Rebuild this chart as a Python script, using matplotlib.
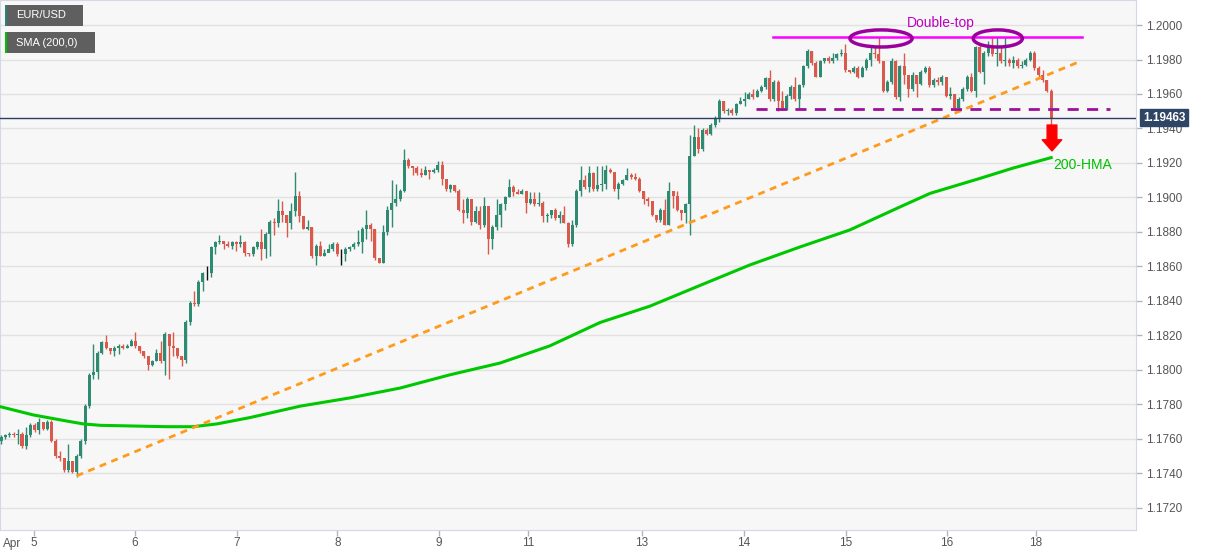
import matplotlib.pyplot as plt
import numpy as np
from matplotlib.patches import Ellipse, Rectangle

plt.rcParams['font.family'] = ['Liberation Sans', 'DejaVu Sans']

# hourly EUR/USD candles, open = previous close
first_open = 1.1759
closes = [
    1.1761, 1.1762, 1.1763, 1.1762, 1.1763, 1.1756, 1.1762, 1.1768, 1.1765, 1.1770,
    1.1766, 1.1770, 1.1759, 1.1750, 1.1749, 1.1742, 1.1747, 1.1741, 1.1750, 1.1759,
    1.1779, 1.1797, 1.1799, 1.1810, 1.1816, 1.1813, 1.1811, 1.1813, 1.1814, 1.1813,
    1.1814, 1.1817, 1.1814, 1.1811, 1.1808, 1.1803, 1.1805, 1.1810, 1.1805, 1.1821,
    1.1814, 1.1813, 1.1808, 1.1806, 1.1828, 1.1839, 1.1838, 1.1851, 1.1856, 1.1856,
    1.1871, 1.1874, 1.1875, 1.1873, 1.1872, 1.1874, 1.1873, 1.1874, 1.1868, 1.1867,
    1.1871, 1.1874, 1.1870, 1.1879, 1.1886, 1.1885, 1.1892, 1.1890, 1.1885, 1.1892,
    1.1901, 1.1889, 1.1882, 1.1883, 1.1866, 1.1872, 1.1866, 1.1868, 1.1870, 1.1873,
    1.1867, 1.1867, 1.1870, 1.1871, 1.1873, 1.1874, 1.1882, 1.1884, 1.1882, 1.1865,
    1.1862, 1.1880, 1.1893, 1.1897, 1.1899, 1.1904, 1.1922, 1.1918, 1.1917, 1.1914,
    1.1913, 1.1916, 1.1915, 1.1916, 1.1919, 1.1911, 1.1905, 1.1907, 1.1904, 1.1893,
    1.1891, 1.1899, 1.1886, 1.1892, 1.1884, 1.1895, 1.1876, 1.1883, 1.1890, 1.1896,
    1.1900, 1.1906, 1.1903, 1.1902, 1.1904, 1.1897, 1.1899, 1.1896, 1.1897, 1.1889,
    1.1890, 1.1893, 1.1888, 1.1890, 1.1885, 1.1873, 1.1884, 1.1904, 1.1910, 1.1906,
    1.1914, 1.1905, 1.1907, 1.1908, 1.1916, 1.1915, 1.1905, 1.1908, 1.1910, 1.1913,
    1.1912, 1.1911, 1.1904, 1.1899, 1.1898, 1.1890, 1.1887, 1.1893, 1.1884, 1.1904,
    1.1901, 1.1893, 1.1891, 1.1896, 1.1924, 1.1935, 1.1928, 1.1939, 1.1937, 1.1942,
    1.1946, 1.1956, 1.1950, 1.1951, 1.1949, 1.1954, 1.1956, 1.1957, 1.1960, 1.1958,
    1.1962, 1.1964, 1.1969, 1.1957, 1.1967, 1.1956, 1.1952, 1.1959, 1.1964, 1.1957,
    1.1965, 1.1976, 1.1985, 1.1978, 1.1970, 1.1979, 1.1981, 1.1979, 1.1981, 1.1983,
    1.1984, 1.1974, 1.1973, 1.1975, 1.1970, 1.1975, 1.1980, 1.1984, 1.1983, 1.1979,
    1.1962, 1.1967, 1.1979, 1.1958, 1.1976, 1.1971, 1.1963, 1.1971, 1.1966, 1.1973,
    1.1975, 1.1965, 1.1968, 1.1967, 1.1970, 1.1959, 1.1960, 1.1952, 1.1957, 1.1963,
    1.1970, 1.1962, 1.1987, 1.1973, 1.1984, 1.1987, 1.1983, 1.1984, 1.1979, 1.1980,
    1.1978, 1.1980, 1.1976, 1.1977, 1.1980, 1.1984, 1.1975, 1.1971, 1.1968, 1.1962,
    1.19463,
]
highs = [
    1.1762, 1.1763, 1.1764, 1.1764, 1.1766, 1.1764, 1.1767, 1.1769, 1.1769, 1.1772,
    1.1770, 1.1771, 1.1771, 1.1760, 1.1753, 1.1749, 1.1757, 1.1747, 1.1751, 1.1760,
    1.1780, 1.1798, 1.1815, 1.1811, 1.1817, 1.1820, 1.1813, 1.1814, 1.1815, 1.1815,
    1.1815, 1.1818, 1.1822, 1.1814, 1.1811, 1.1808, 1.1806, 1.1812, 1.1817, 1.1822,
    1.1821, 1.1822, 1.1813, 1.1808, 1.1829, 1.1840, 1.1846, 1.1852, 1.1857, 1.1860,
    1.1872, 1.1875, 1.1878, 1.1875, 1.1875, 1.1875, 1.1875, 1.1878, 1.1875, 1.1868,
    1.1872, 1.1875, 1.1882, 1.1880, 1.1887, 1.1888, 1.1899, 1.1898, 1.1890, 1.1897,
    1.1915, 1.1904, 1.1889, 1.1887, 1.1883, 1.1873, 1.1875, 1.1870, 1.1873, 1.1874,
    1.1874, 1.1870, 1.1871, 1.1872, 1.1874, 1.1881, 1.1883, 1.1893, 1.1885, 1.1882,
    1.1865, 1.1884, 1.1895, 1.1910, 1.1908, 1.1905, 1.1928, 1.1923, 1.1918, 1.1918,
    1.1917, 1.1918, 1.1916, 1.1917, 1.1921, 1.1921, 1.1911, 1.1908, 1.1907, 1.1905,
    1.1899, 1.1900, 1.1899, 1.1895, 1.1895, 1.1900, 1.1895, 1.1884, 1.1899, 1.1897,
    1.1901, 1.1911, 1.1907, 1.1905, 1.1905, 1.1904, 1.1903, 1.1903, 1.1903, 1.1898,
    1.1891, 1.1893, 1.1894, 1.1892, 1.1895, 1.1886, 1.1887, 1.1905, 1.1918, 1.1913,
    1.1918, 1.1915, 1.1918, 1.1918, 1.1919, 1.1917, 1.1915, 1.1909, 1.1911, 1.1917,
    1.1914, 1.1914, 1.1912, 1.1904, 1.1900, 1.1898, 1.1890, 1.1894, 1.1899, 1.1909,
    1.1904, 1.1904, 1.1893, 1.1897, 1.1936, 1.1942, 1.1940, 1.1940, 1.1940, 1.1943,
    1.1947, 1.1957, 1.1956, 1.1952, 1.1952, 1.1955, 1.1958, 1.1961, 1.1961, 1.1963,
    1.1963, 1.1965, 1.1970, 1.1974, 1.1968, 1.1968, 1.1962, 1.1960, 1.1965, 1.1970,
    1.1966, 1.1977, 1.1986, 1.1985, 1.1979, 1.1980, 1.1981, 1.1982, 1.1984, 1.1984,
    1.1986, 1.1989, 1.1974, 1.1976, 1.1976, 1.1976, 1.1981, 1.1987, 1.1988, 1.1993,
    1.1979, 1.1968, 1.1981, 1.1980, 1.1977, 1.1984, 1.1971, 1.1973, 1.1971, 1.1974,
    1.1976, 1.1976, 1.1969, 1.1970, 1.1971, 1.1970, 1.1964, 1.1960, 1.1958, 1.1964,
    1.1971, 1.1972, 1.1988, 1.1989, 1.1985, 1.1991, 1.1993, 1.1993, 1.1987, 1.1993,
    1.1981, 1.1982, 1.1981, 1.1979, 1.1981, 1.1985, 1.1985, 1.1976, 1.1974, 1.1968,
    1.1963,
]
lows = [
    1.1757, 1.1760, 1.1761, 1.1761, 1.1757, 1.1755, 1.1754, 1.1761, 1.1764, 1.1763,
    1.1765, 1.1765, 1.1758, 1.1749, 1.1747, 1.1741, 1.1741, 1.1740, 1.1738, 1.1749,
    1.1757, 1.1778, 1.1795, 1.1795, 1.1809, 1.1812, 1.1809, 1.1808, 1.1809, 1.1812,
    1.1813, 1.1814, 1.1813, 1.1810, 1.1807, 1.1800, 1.1802, 1.1805, 1.1804, 1.1797,
    1.1795, 1.1808, 1.1807, 1.1802, 1.1804, 1.1826, 1.1837, 1.1837, 1.1846, 1.1852,
    1.1854, 1.1867, 1.1873, 1.1870, 1.1871, 1.1870, 1.1869, 1.1871, 1.1866, 1.1866,
    1.1866, 1.1870, 1.1864, 1.1865, 1.1866, 1.1878, 1.1883, 1.1886, 1.1877, 1.1882,
    1.1889, 1.1886, 1.1882, 1.1881, 1.1865, 1.1861, 1.1866, 1.1866, 1.1869, 1.1869,
    1.1866, 1.1861, 1.1863, 1.1869, 1.1870, 1.1872, 1.1868, 1.1876, 1.1875, 1.1864,
    1.1862, 1.1862, 1.1878, 1.1883, 1.1895, 1.1898, 1.1903, 1.1917, 1.1913, 1.1913,
    1.1912, 1.1913, 1.1911, 1.1914, 1.1915, 1.1907, 1.1904, 1.1903, 1.1903, 1.1892,
    1.1885, 1.1888, 1.1884, 1.1885, 1.1882, 1.1883, 1.1867, 1.1870, 1.1881, 1.1883,
    1.1893, 1.1900, 1.1901, 1.1902, 1.1902, 1.1891, 1.1896, 1.1895, 1.1895, 1.1886,
    1.1886, 1.1888, 1.1887, 1.1885, 1.1885, 1.1871, 1.1872, 1.1883, 1.1901, 1.1905,
    1.1903, 1.1904, 1.1904, 1.1904, 1.1905, 1.1914, 1.1904, 1.1899, 1.1907, 1.1910,
    1.1911, 1.1910, 1.1903, 1.1896, 1.1895, 1.1889, 1.1886, 1.1886, 1.1884, 1.1884,
    1.1894, 1.1892, 1.1887, 1.1885, 1.1878, 1.1924, 1.1926, 1.1927, 1.1936, 1.1936,
    1.1941, 1.1944, 1.1949, 1.1948, 1.1948, 1.1948, 1.1954, 1.1953, 1.1957, 1.1957,
    1.1958, 1.1961, 1.1963, 1.1956, 1.1956, 1.1950, 1.1951, 1.1951, 1.1957, 1.1956,
    1.1952, 1.1964, 1.1975, 1.1977, 1.1970, 1.1970, 1.1978, 1.1978, 1.1978, 1.1980,
    1.1982, 1.1973, 1.1972, 1.1972, 1.1969, 1.1970, 1.1974, 1.1976, 1.1981, 1.1978,
    1.1961, 1.1961, 1.1966, 1.1957, 1.1956, 1.1966, 1.1958, 1.1962, 1.1958, 1.1965,
    1.1972, 1.1964, 1.1964, 1.1965, 1.1965, 1.1958, 1.1957, 1.1951, 1.1950, 1.1956,
    1.1962, 1.1961, 1.1958, 1.1972, 1.1966, 1.1982, 1.1982, 1.1976, 1.1978, 1.1976,
    1.1976, 1.1975, 1.1975, 1.1975, 1.1976, 1.1979, 1.1974, 1.1970, 1.1967, 1.1961,
    1.1942,
]

# 200 SMA read at points along the line (candle index, price)
sma_idx = [0, 7.7, 15.6, 19.6, 23.6, 31.4, 39.5, 45.7, 51.4, 59.3, 71.2, 83.1, 95,
           106.9, 118.8, 130.7, 142.6, 154.5, 166.4, 178.3, 190.2, 202.1, 214,
           221.2, 233.1, 241, 250]
sma_val = [1.17786, 1.17739, 1.17704, 1.17687, 1.17679, 1.17675, 1.17671, 1.17671,
           1.17687, 1.17724, 1.17790, 1.17838, 1.17895, 1.17972, 1.18040, 1.18140,
           1.18275, 1.18370, 1.18490, 1.18609, 1.18713, 1.18812, 1.18945, 1.19024,
           1.19111, 1.19171, 1.19231]

trend_idx = [18.0, 256.4]
trend_val = [1.17386, 1.19784]
neck_idx = [179.8, 264.0]
neck_val = 1.19513
top_idx = [183.8, 257.3]
top_val = 1.19932
last_price = 1.19463

tick_pos = [7.9, 31.9, 56.1, 80.1, 104.3, 125.5, 152.6, 176.9, 201.1, 225.2, 246.3]
tick_lbl = ['5', '6', '7', '8', '9', '11', '13', '14', '15', '16', '18']
y_ticks = np.round(np.arange(1.1720, 1.2001, 0.002), 4)

W, H = 1207, 555
fig = plt.figure(figsize=(W / 100, H / 100), dpi=100)
ax = fig.add_axes([0, 25 / H, 1136 / W, 530 / H])
ax.set_facecolor('#f7f7f7')

closes = np.array(closes)
highs = np.array(highs)
lows = np.array(lows)
opens = np.concatenate([[first_open], closes[:-1]])
x = np.arange(len(closes))

cols = []
for o, c in zip(opens, closes):
    if abs(c - o) < 1e-6:
        cols.append('#111111')
    elif c > o:
        cols.append('#2f8a72')
    else:
        cols.append('#d9594c')

ax.vlines(x, lows, highs, colors=cols, lw=1, zorder=3)
ax.bar(x, np.maximum(np.abs(closes - opens), 0.00003), bottom=np.minimum(opens, closes),
       width=0.72, color=cols, lw=0, zorder=4)

# SMA 200
ax.plot(sma_idx, sma_val, color='#00c800', lw=2.2, zorder=5)

# trend line, neckline, double top line
ax.plot(trend_idx, trend_val, color='#ff9a1a', lw=2, ls=(0, (2.5, 2)), zorder=6)
ax.plot(neck_idx, [neck_val, neck_val], color='#9c109c', lw=2, ls=(0, (4, 3)), zorder=6)
ax.plot(top_idx, [top_val, top_val], color='#ff00ff', lw=1.8, zorder=6)

ax.add_patch(Ellipse((209.5, 1.19922), 14.8, 0.00099, fill=False,
                     edgecolor='#9c009c', lw=2.5, zorder=7))
ax.add_patch(Ellipse((237.3, 1.19922), 11.7, 0.00099, fill=False,
                     edgecolor='#9c009c', lw=2.5, zorder=7))
ax.text(223.8, 1.20014, 'Double-top', color='#c000c0', fontsize=10,
        ha='center', va='center', zorder=8)

# last price line
ax.axhline(last_price, color='#2c3e66', lw=1, zorder=6)

ax.annotate('', xy=(250.2, 1.1927), xytext=(250.2, 1.1942),
            arrowprops=dict(arrowstyle='simple,head_length=0.8,head_width=1.4,tail_width=0.7',
                            color='#ff0000', mutation_scale=10, shrinkA=0, shrinkB=0),
            zorder=8)
ax.text(250.5, 1.19188, '200-HMA', color='#00c000', fontsize=10,
        ha='left', va='center', zorder=8)

ax.set_xlim(-0.24, 270.2)
ax.set_ylim(1.17072, 1.20145)

ax.yaxis.tick_right()
ax.set_yticks(y_ticks)
ax.set_yticklabels([f'{v:.4f}' for v in y_ticks])
ax.set_xticks(tick_pos)
ax.set_xticklabels(tick_lbl)
ax.tick_params(axis='both', colors='#b0b4c0', labelcolor='#555555', labelsize=8.5,
               length=4, width=1)
ax.tick_params(axis='y', pad=3)
ax.tick_params(axis='x', pad=1)
ax.grid(axis='y', color='#e2e2e2', lw=1, zorder=0)
ax.set_axisbelow(True)
for s in ax.spines.values():
    s.set_color('#d3d7e6')

ax.text(0.003, -0.016, 'Apr', transform=ax.transAxes, fontsize=8.5,
        color='#555555', ha='left', va='top')

# price label on the right
ax.text(1.006, last_price, '1.19463', transform=ax.get_yaxis_transform(),
        color='white', fontsize=8.5, fontweight='bold', ha='left', va='center',
        bbox=dict(boxstyle='square,pad=0.2', fc='#2f4566', ec='#2f4566'), zorder=10)

# legend boxes top-left
def label_box(x0, y0, w, h, stripe, text):
    fig.patches.append(Rectangle((x0 / W, 1 - (y0 + h) / H), w / W, h / H,
                                 transform=fig.transFigure, fc='#5f5f5f', ec='none', zorder=20))
    fig.patches.append(Rectangle((x0 / W, 1 - (y0 + h) / H), 2 / W, h / H,
                                 transform=fig.transFigure, fc=stripe, ec='none', zorder=21))
    fig.text((x0 + 11) / W, 1 - (y0 + h / 2) / H, text, color='white', fontsize=8,
             ha='left', va='center', zorder=22)

label_box(5, 5, 78, 21, '#2b8077', 'EUR/USD')
label_box(5, 32, 90, 21, '#00c000', 'SMA (200,0)')

fig.savefig('out.png', dpi=100, facecolor='white')
